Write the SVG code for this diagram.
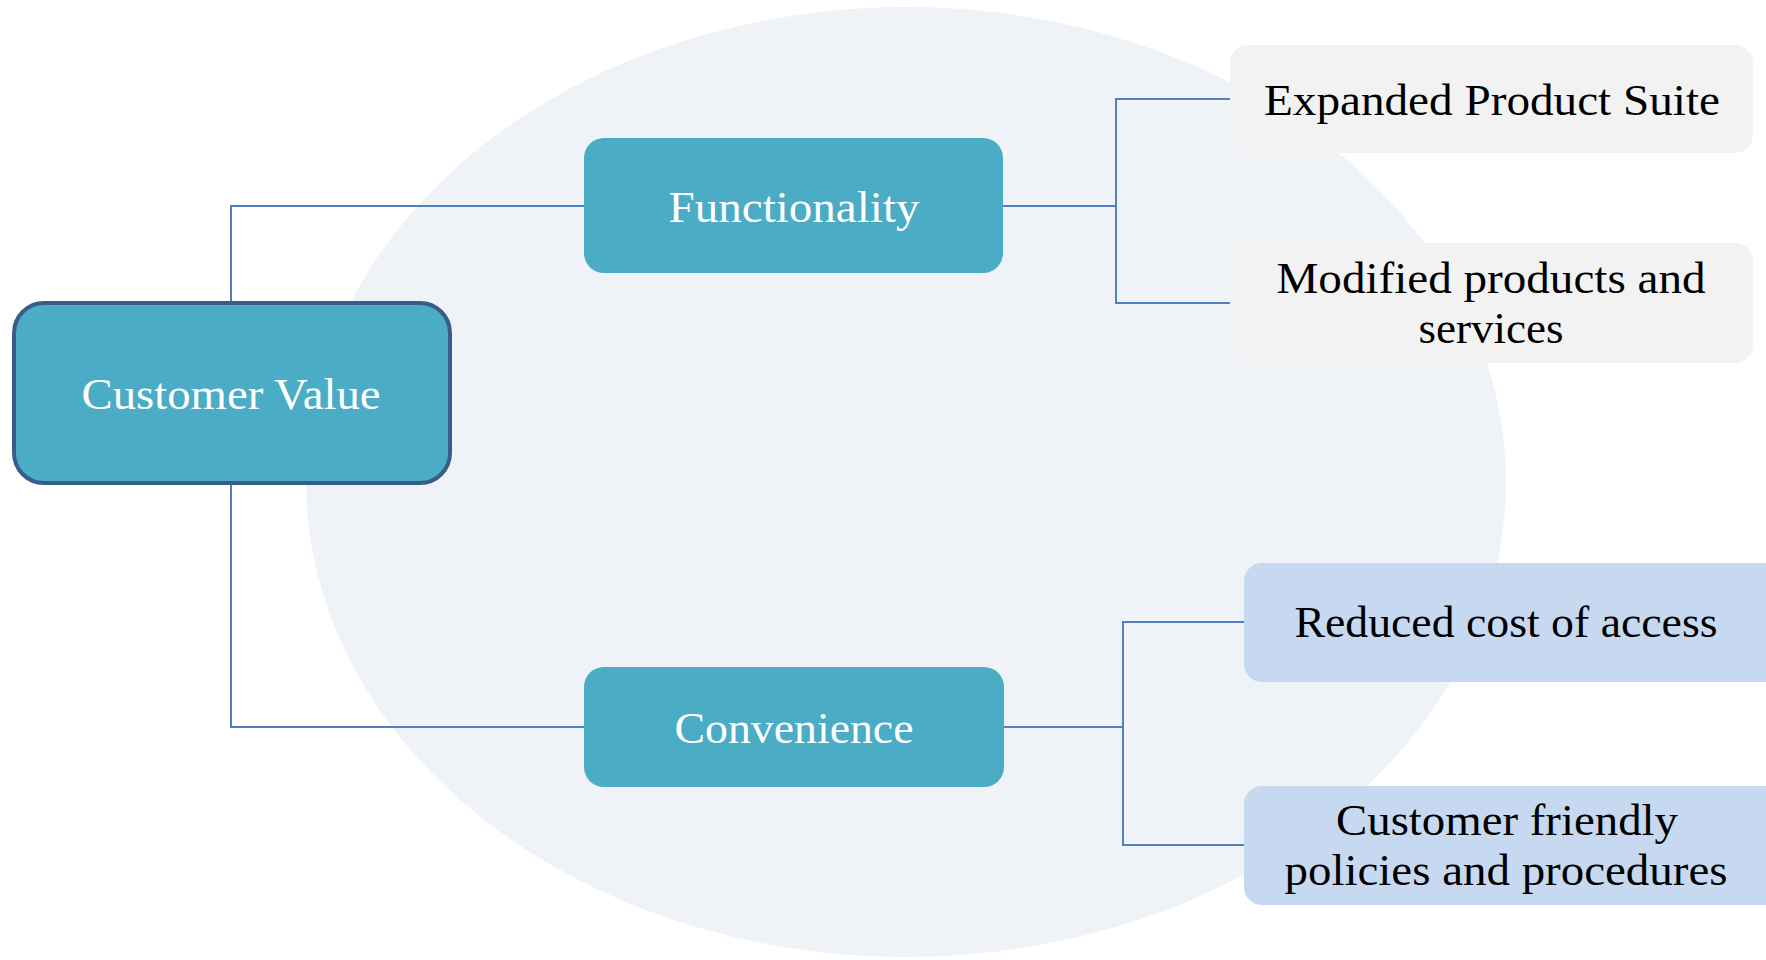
<svg xmlns="http://www.w3.org/2000/svg" width="1766" height="960" viewBox="0 0 1766 960">
  <style>
    .lbl { font-family: "Liberation Serif", "Times New Roman", serif; font-size: 45px; text-anchor: middle; }
    .light { fill: #ffffff; }
    .dark { fill: #000000; }
    .teal { fill: #4bacc6; }
    .grey { fill: #f2f2f2; }
    .blue { fill: #c6d9f0; }
    .wire { fill: none; stroke: #4f81bd; stroke-width: 2; }
  </style>
  <rect x="0" y="0" width="1766" height="960" fill="#ffffff"/>
  <!-- background halo -->
  <ellipse cx="906" cy="482" rx="600" ry="475" fill="#eff3f8"/>

  <g id="connectors">
    <polyline class="wire" points="231,302 231,206 584,206"/>
    <polyline class="wire" points="231,484 231,727 584,727"/>
    <polyline class="wire" points="1003,206 1116,206"/>
    <polyline class="wire" points="1230,99 1116,99 1116,303 1230,303"/>
    <polyline class="wire" points="1004,727 1123,727"/>
    <polyline class="wire" points="1244,622 1123,622 1123,845 1244,845"/>
  </g>

  <g id="customer-value">
    <rect x="14" y="303" width="436" height="180" rx="30" class="teal" stroke="#385d8a" stroke-width="4"/>
    <text class="lbl light" x="231" y="409" textLength="299" lengthAdjust="spacingAndGlyphs">Customer Value</text>
  </g>

  <g id="functionality">
    <rect x="584" y="138" width="419" height="135" rx="20" class="teal"/>
    <text class="lbl light" x="794" y="222" textLength="251" lengthAdjust="spacingAndGlyphs">Functionality</text>
  </g>

  <g id="convenience">
    <rect x="584" y="667" width="420" height="120" rx="20" class="teal"/>
    <text class="lbl light" x="794" y="743" textLength="239" lengthAdjust="spacingAndGlyphs">Convenience</text>
  </g>

  <g id="expanded-product-suite">
    <rect x="1230" y="45" width="523" height="108" rx="18" class="grey"/>
    <text class="lbl dark" x="1492" y="115" textLength="456" lengthAdjust="spacingAndGlyphs">Expanded Product Suite</text>
  </g>

  <g id="modified-products">
    <rect x="1230" y="243" width="523" height="120" rx="18" class="grey"/>
    <text class="lbl dark" x="1491" y="293" textLength="429" lengthAdjust="spacingAndGlyphs">Modified products and</text>
    <text class="lbl dark" x="1491" y="343" textLength="145" lengthAdjust="spacingAndGlyphs">services</text>
  </g>

  <g id="reduced-cost">
    <rect x="1244" y="563" width="540" height="119" rx="18" class="blue"/>
    <text class="lbl dark" x="1506" y="637" textLength="423" lengthAdjust="spacingAndGlyphs">Reduced cost of access</text>
  </g>

  <g id="customer-friendly">
    <rect x="1244" y="786" width="540" height="119" rx="18" class="blue"/>
    <text class="lbl dark" x="1507" y="835" textLength="342" lengthAdjust="spacingAndGlyphs">Customer friendly</text>
    <text class="lbl dark" x="1506" y="885" textLength="443" lengthAdjust="spacingAndGlyphs">policies and procedures</text>
  </g>
</svg>
